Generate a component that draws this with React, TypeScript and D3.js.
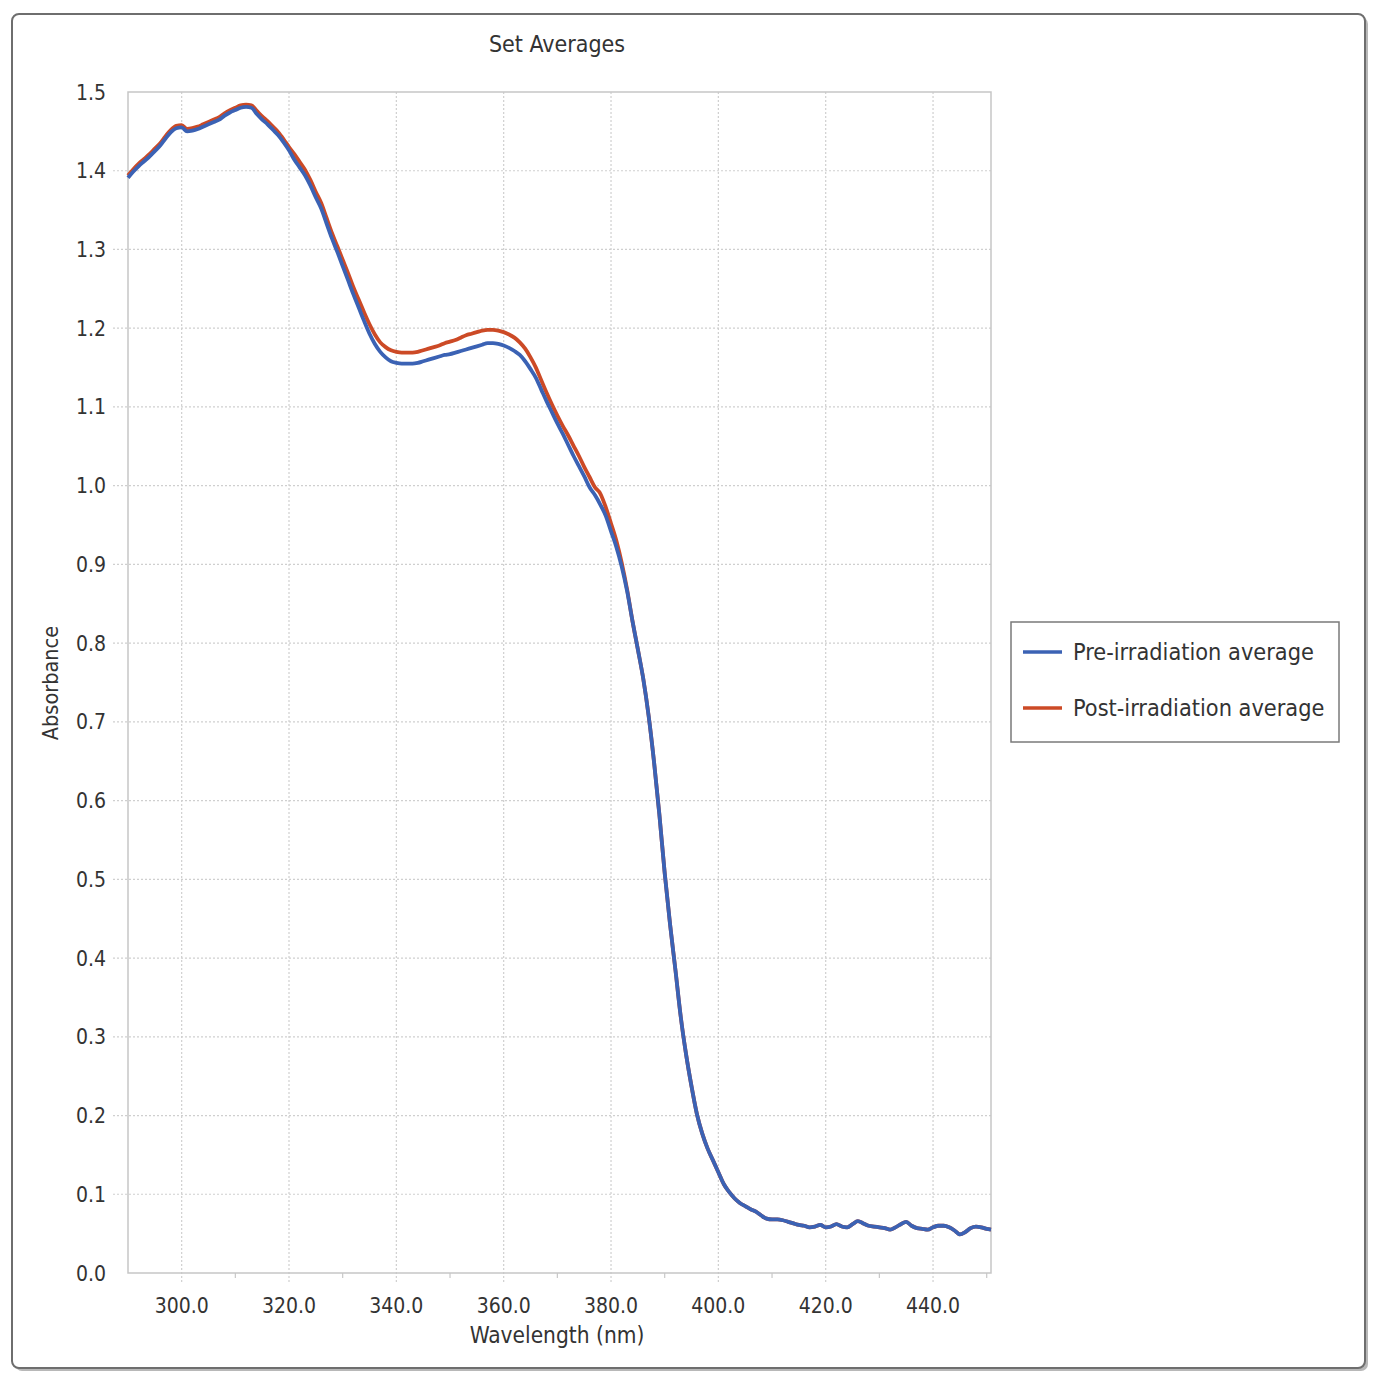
import React from "react";
import * as d3 from "d3";

const wavelengths: number[] = [
  290, 291, 292, 293, 294, 295, 296, 297, 298, 299,
  300, 301, 302, 303, 304, 305, 306, 307, 308, 309,
  310, 311, 312, 313, 314, 315, 316, 317, 318, 319,
  320, 321, 322, 323, 324, 325, 326, 327, 328, 329,
  330, 331, 332, 333, 334, 335, 336, 337, 338, 339,
  340, 341, 342, 343, 344, 345, 346, 347, 348, 349,
  350, 351, 352, 353, 354, 355, 356, 357, 358, 359,
  360, 361, 362, 363, 364, 365, 366, 367, 368, 369,
  370, 371, 372, 373, 374, 375, 376, 377, 378, 379,
  380, 381, 382, 383, 384, 385, 386, 387, 388, 389,
  390, 391, 392, 393, 394, 395, 396, 397, 398, 399,
  400, 401, 402, 403, 404, 405, 406, 407, 408, 409,
  410, 411, 412, 413, 414, 415, 416, 417, 418, 419,
  420, 421, 422, 423, 424, 425, 426, 427, 428, 429,
  430, 431, 432, 433, 434, 435, 436, 437, 438, 439,
  440, 441, 442, 443, 444, 445, 446, 447, 448, 449,
  450, 450.8,
];

const preIrradiation: number[] = [
  1.391, 1.399, 1.406, 1.412, 1.418, 1.425, 1.432, 1.441, 1.449, 1.454,
  1.455, 1.450, 1.451, 1.453, 1.456, 1.459, 1.462, 1.465, 1.470, 1.474,
  1.477, 1.480, 1.481, 1.480, 1.472, 1.465, 1.459, 1.452, 1.445, 1.436,
  1.426, 1.414, 1.404, 1.394, 1.381, 1.366, 1.352, 1.333, 1.314, 1.297,
  1.279, 1.261, 1.243, 1.226, 1.209, 1.193, 1.180, 1.170, 1.163, 1.158,
  1.156, 1.155, 1.155, 1.155, 1.156, 1.158, 1.160, 1.162, 1.164, 1.166,
  1.167, 1.169, 1.171, 1.173, 1.175, 1.177, 1.179, 1.181, 1.181, 1.180,
  1.178, 1.175, 1.171, 1.166, 1.158, 1.148, 1.137, 1.122, 1.107, 1.093,
  1.079, 1.066, 1.052, 1.038, 1.025, 1.012, 0.998, 0.988, 0.976, 0.962,
  0.942, 0.922, 0.897, 0.866, 0.828, 0.792, 0.755, 0.708, 0.650, 0.583,
  0.508, 0.443, 0.385, 0.325, 0.277, 0.237, 0.202, 0.177, 0.158, 0.143,
  0.128, 0.113, 0.103, 0.095, 0.089, 0.085, 0.081, 0.078, 0.073, 0.069,
  0.068, 0.068, 0.067, 0.065, 0.063, 0.061, 0.060, 0.058, 0.059, 0.061,
  0.058, 0.059, 0.062, 0.059, 0.058, 0.062, 0.066, 0.063, 0.060, 0.059,
  0.058, 0.057, 0.055, 0.058, 0.062, 0.065, 0.060, 0.057, 0.056, 0.055,
  0.058, 0.060, 0.060, 0.058, 0.054, 0.049, 0.052, 0.057, 0.059, 0.058,
  0.056, 0.055,
];

const postIrradiation: number[] = [
  1.394, 1.402, 1.409, 1.415, 1.421, 1.428, 1.435, 1.444, 1.452, 1.457,
  1.458, 1.453, 1.454, 1.456, 1.459, 1.462, 1.465, 1.468, 1.473, 1.477,
  1.480, 1.483, 1.484, 1.483, 1.476, 1.469, 1.463, 1.456, 1.449, 1.440,
  1.430, 1.421, 1.411, 1.401, 1.388, 1.373, 1.359, 1.340, 1.321, 1.304,
  1.287, 1.270, 1.252, 1.236, 1.220, 1.205, 1.192, 1.182, 1.176, 1.172,
  1.170, 1.169, 1.169, 1.169, 1.170, 1.172, 1.174, 1.176, 1.178, 1.181,
  1.183, 1.185, 1.188, 1.191, 1.193, 1.195, 1.197, 1.198, 1.198, 1.197,
  1.195, 1.192, 1.188, 1.182, 1.174, 1.163, 1.150, 1.134, 1.118, 1.103,
  1.089, 1.076, 1.064, 1.051, 1.038, 1.024, 1.011, 0.998, 0.990, 0.973,
  0.952, 0.930, 0.902, 0.868, 0.828, 0.792, 0.755, 0.708, 0.650, 0.583,
  0.508, 0.443, 0.385, 0.325, 0.277, 0.237, 0.202, 0.177, 0.158, 0.143,
  0.128, 0.113, 0.103, 0.095, 0.089, 0.085, 0.081, 0.078, 0.073, 0.069,
  0.068, 0.068, 0.067, 0.065, 0.063, 0.061, 0.060, 0.058, 0.059, 0.061,
  0.058, 0.059, 0.062, 0.059, 0.058, 0.062, 0.066, 0.063, 0.060, 0.059,
  0.058, 0.057, 0.055, 0.058, 0.062, 0.065, 0.060, 0.057, 0.056, 0.055,
  0.058, 0.060, 0.060, 0.058, 0.054, 0.049, 0.052, 0.057, 0.059, 0.058,
  0.056, 0.055,
];

const xMajorTicks: number[] = [300, 320, 340, 360, 380, 400, 420, 440];
const xMinorTicks: number[] = [310, 330, 350, 370, 390, 410, 430, 450];
const yTicks: number[] = [0, 0.1, 0.2, 0.3, 0.4, 0.5, 0.6, 0.7, 0.8, 0.9, 1.0, 1.1, 1.2, 1.3, 1.4, 1.5];

const seriesNames: string[] = ["Pre-irradiation average", "Post-irradiation average"];
const seriesColors: string[] = ["#3b62b4", "#cc4a26"];

const FONT = "'DejaVu Sans Condensed', 'DejaVu Sans', sans-serif";

export default function App() {
  const W = 1375;
  const H = 1375;
  const left = 128;
  const right = 991;
  const top = 92;
  const bottom = 1273;

  const x = d3.scaleLinear().domain([290, 450.8]).range([left, right]);
  const y = d3.scaleLinear().domain([0, 1.5]).range([bottom, top]);

  const pre = wavelengths.map((w, i) => [w, preIrradiation[i]] as [number, number]);
  const post = wavelengths.map((w, i) => [w, postIrradiation[i]] as [number, number]);
  const line = d3
    .line<[number, number]>()
    .x((d) => x(d[0]))
    .y((d) => y(d[1]))
    .curve(d3.curveMonotoneX);

  const textColor = "#333333";

  return (
    <svg
      width={W}
      height={H}
      style={{ position: "absolute", left: 0, top: 0, background: "#fff" }}
      fontFamily={FONT}
    >
      {/* outer frame with shadow */}
      <rect x={15} y={17} width={1353} height={1354} rx={7} fill="#b8b8b8" />
      <rect x={12} y={14} width={1353} height={1354} rx={7} fill="#fff" stroke="#6e6e6e" strokeWidth={2} />

      {/* title */}
      <text x={557} y={52} textAnchor="middle" fontSize={23} fill={textColor}>
        Set Averages
      </text>

      {/* gridlines */}
      {yTicks.slice(1, -1).map((t) => (
        <line
          key={"gy" + t}
          x1={113}
          x2={right}
          y1={y(t)}
          y2={y(t)}
          stroke="#cfcfcf"
          strokeWidth={1.2}
          strokeDasharray="2,2"
        />
      ))}
      {xMajorTicks.map((t) => (
        <line
          key={"gx" + t}
          x1={x(t)}
          x2={x(t)}
          y1={top}
          y2={bottom + 10}
          stroke="#cfcfcf"
          strokeWidth={1.2}
          strokeDasharray="2,2"
        />
      ))}
      {xMinorTicks.map((t) => (
        <line
          key={"mx" + t}
          x1={x(t)}
          x2={x(t)}
          y1={bottom}
          y2={bottom + 5}
          stroke="#c8c8c8"
          strokeWidth={1.2}
        />
      ))}

      {/* plot border */}
      <rect
        x={left}
        y={top}
        width={right - left}
        height={bottom - top}
        fill="none"
        stroke="#c6c6c6"
        strokeWidth={1.5}
      />

      {/* y tick labels */}
      {yTicks.map((t) => (
        <text
          key={"ly" + t}
          x={106}
          y={y(t)}
          dy="0.36em"
          textAnchor="end"
          fontSize={21}
          fill={textColor}
        >
          {d3.format(".1f")(t)}
        </text>
      ))}

      {/* x tick labels */}
      {xMajorTicks.map((t) => (
        <text
          key={"lx" + t}
          x={x(t)}
          y={1313}
          textAnchor="middle"
          fontSize={21}
          fill={textColor}
        >
          {d3.format(".1f")(t)}
        </text>
      ))}

      {/* axis titles */}
      <text x={557} y={1343} textAnchor="middle" fontSize={22.5} fill={textColor}>
        Wavelength (nm)
      </text>
      <text
        transform={`translate(58,683) rotate(-90)`}
        textAnchor="middle"
        fontSize={21.5}
        fill={textColor}
      >
        Absorbance
      </text>

      {/* series */}
      <path d={line(post) ?? ""} fill="none" stroke={seriesColors[1]} strokeWidth={3.8} strokeLinejoin="round" />
      <path d={line(pre) ?? ""} fill="none" stroke={seriesColors[0]} strokeWidth={3.8} strokeLinejoin="round" />

      {/* legend */}
      <rect x={1011} y={622} width={328} height={120} fill="#fff" stroke="#7a7a7a" strokeWidth={1.5} />
      {seriesNames.map((name, i) => (
        <g key={name}>
          <line
            x1={1023}
            x2={1062}
            y1={652 + i * 56}
            y2={652 + i * 56}
            stroke={seriesColors[i]}
            strokeWidth={3.5}
          />
          <text x={1073} y={652 + i * 56} dy="0.36em" fontSize={23.3} fill={textColor}>
            {name}
          </text>
        </g>
      ))}
    </svg>
  );
}
